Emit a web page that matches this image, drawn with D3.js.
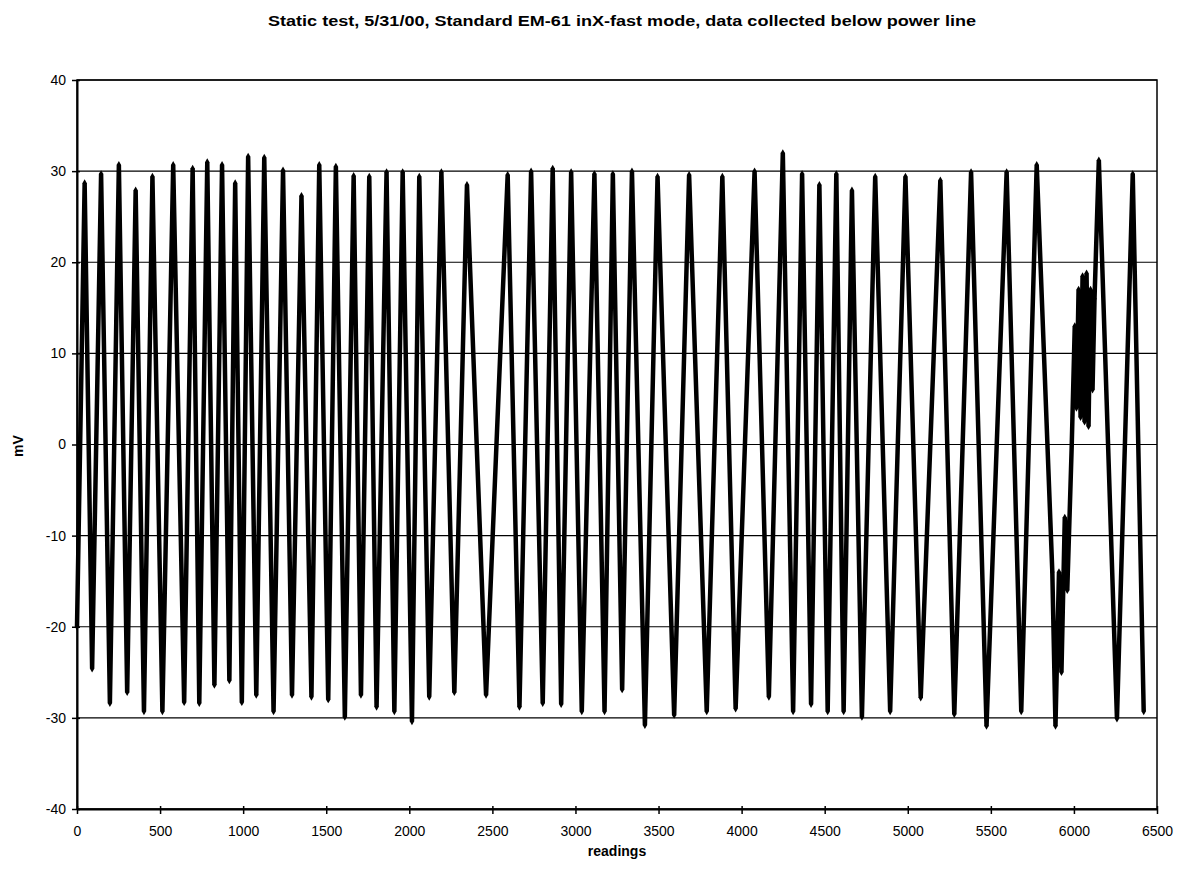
<!DOCTYPE html>
<html>
<head>
<meta charset="utf-8">
<script src="https://cdn.jsdelivr.net/npm/d3@7"></script>
<style>
body { margin: 0; background: #fff; }
text { font-family: "Liberation Sans", Arial, sans-serif; }
</style>
</head>
<body>
<svg width="1182" height="877"></svg>
<script>
// peaks and troughs (reading number, mV)
var readings = [0, 46, 91, 145, 198, 252, 302, 353, 403, 454, 514, 579, 645, 696, 736, 784, 827, 873, 917, 952,
	992, 1030, 1079, 1127, 1183, 1240, 1294, 1351, 1411, 1458, 1512, 1558, 1612, 1665, 1709, 1759, 1803, 1863,
	1910, 1960, 2016, 2060, 2120, 2193, 2271, 2347, 2462, 2592, 2663, 2733, 2803, 2863, 2914, 2974, 3038, 3114,
	3175, 3225, 3281, 3340, 3418, 3494, 3594, 3684, 3790, 3884, 3964, 4078, 4164, 4248, 4310, 4364, 4418, 4468,
	4518, 4570, 4614, 4664, 4724, 4804, 4894, 4986, 5078, 5196, 5280, 5381, 5474, 5595, 5683, 5776, 5870, 5889,
	5910, 5925, 5945, 5960, 5987, 6005, 6015, 6028, 6040, 6052, 6064, 6076, 6088, 6100, 6112, 6124, 6150, 6259,
	6354, 6420]
var mV = [-20, 28.7, -24.6, 29.7, -28.4, 30.7, -27.2, 27.9, -29.3, 29.4, -29.3, 30.7, -28.3, 30.3, -28.4, 31.0,
	-26.4, 30.7, -25.9, 28.7, -28.3, 31.6, -27.5, 31.5, -29.3, 30.1, -27.5, 27.3, -27.7, 30.7, -28.0, 30.5, -29.9,
	29.5, -27.5, 29.4, -28.8, 29.9, -29.3, 29.9, -30.4, 29.4, -27.7, 29.9, -27.2, 28.5, -27.5, 29.6, -28.8, 30.0,
	-28.4, 30.3, -28.5, 29.9, -29.3, 29.7, -29.3, 29.7, -26.9, 30.0, -30.8, 29.4, -29.7, 29.6, -29.3, 29.4, -29.0,
	30.0, -27.7, 32.0, -29.3, 29.7, -28.5, 28.5, -29.3, 29.7, -29.3, 27.9, -29.9, 29.4, -29.3, 29.4, -27.8, 29.0,
	-29.6, 29.9, -30.9, 29.9, -29.3, 30.7, -14, -30.9, -14, -25, -8, -16, 0, 13, 4, 17, 3, 18.5, 2.5, 18.8, 2, 17,
	6, 16, 31.2, -30.1, 29.7, -29.3]

var xTicks = [0, 500, 1000, 1500, 2000, 2500, 3000, 3500, 4000, 4500, 5000, 5500, 6000, 6500]
var yTicks = [-40, -30, -20, -10, 0, 10, 20, 30, 40]

var pLeft = 77, pRight = 1157, pTop = 80, pBottom = 809

var svg = d3.select("svg")
var x = d3.scaleLinear().domain([0, 6500]).range([pLeft, pRight])
var y = d3.scaleLinear().domain([-40, 40]).range([pBottom, pTop])

var points = readings.map(function(r, i) { return { r: r, v: mV[i] } })

// grid lines
svg.append("g").selectAll("line").data(yTicks).enter().append("line")
	.attr("x1", pLeft).attr("x2", pRight)
	.attr("y1", function(d) { return y(d) }).attr("y2", function(d) { return y(d) })
	.attr("stroke", "#000").attr("stroke-width", 1.2)

// frame
svg.append("rect").attr("x", pLeft).attr("y", pTop)
	.attr("width", pRight - pLeft).attr("height", pBottom - pTop)
	.attr("fill", "none").attr("stroke", "#000").attr("stroke-width", 1.5)

// series
var line = d3.line().x(function(d) { return x(d.r) }).y(function(d) { return y(d.v) })
svg.append("path").datum(points).attr("d", line)
	.attr("fill", "none").attr("stroke", "#000").attr("stroke-width", 4.5)
	.attr("stroke-linejoin", "bevel")

svg.append("g").selectAll("path").data(points).enter().append("path")
	.attr("d", d3.symbol().type(d3.symbolDiamond).size(16))
	.attr("transform", function(d) { return "translate(" + x(d.r) + "," + y(d.v) + ")" })
	.attr("fill", "#000")

// axes
var fmt = function(d) { return String(d) }
var xAxis = d3.axisBottom(x).tickValues(xTicks).tickFormat(fmt).tickSize(6).tickSizeOuter(0)
var gx = svg.append("g").attr("transform", "translate(0," + pBottom + ")").call(xAxis)
gx.attr("font-size", 14).attr("font-family", "Liberation Sans, Arial, sans-serif")
gx.select(".domain").attr("stroke-width", 2)
gx.selectAll(".tick line").attr("stroke-width", 1.5).attr("y1", -3).attr("y2", 5)
gx.selectAll("text").attr("dy", "1.3em")

var yAxis = d3.axisLeft(y).tickValues(yTicks).tickFormat(fmt).tickSize(6).tickSizeOuter(0)
var gy = svg.append("g").attr("transform", "translate(" + pLeft + ",0)").call(yAxis)
gy.attr("font-size", 14).attr("font-family", "Liberation Sans, Arial, sans-serif")
gy.select(".domain").attr("stroke-width", 2)
gy.selectAll(".tick line").attr("stroke-width", 1.5).attr("x1", 3).attr("x2", -5)
gy.selectAll("text").attr("x", -11)

// titles
svg.append("text").attr("x", 622).attr("y", 26).attr("text-anchor", "middle")
	.attr("font-size", 14).attr("font-weight", "bold")
	.attr("textLength", 708).attr("lengthAdjust", "spacingAndGlyphs")
	.text("Static test, 5/31/00, Standard EM-61 inX-fast mode, data collected below power line")

svg.append("text").attr("x", 617).attr("y", 856).attr("text-anchor", "middle")
	.attr("font-size", 14).attr("font-weight", "bold").text("readings")

svg.append("text").attr("transform", "translate(23,446) rotate(-90)").attr("text-anchor", "middle")
	.attr("font-size", 14).attr("font-weight", "bold").text("mV")
</script>
</body>
</html>
